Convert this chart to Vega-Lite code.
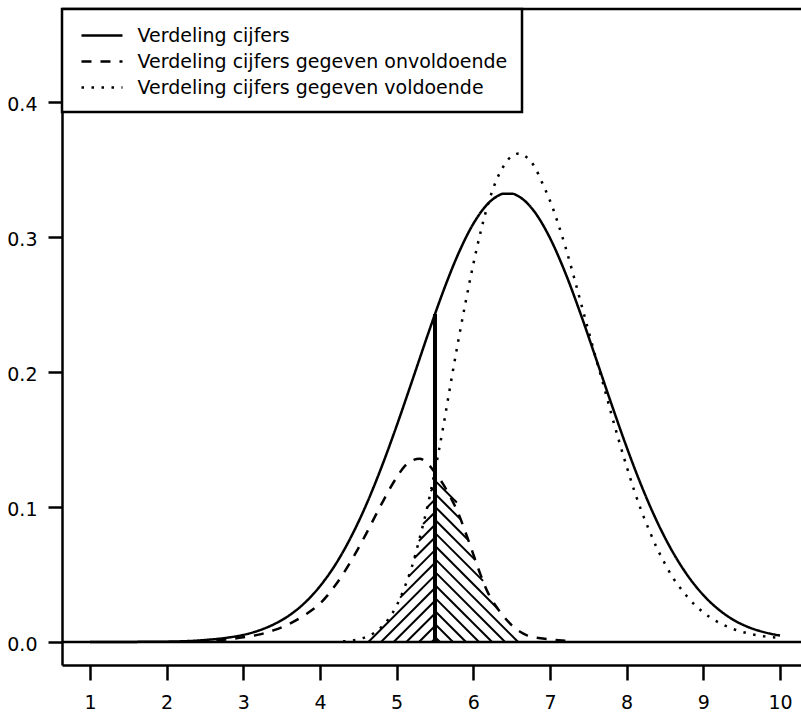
{
  "$schema": "https://vega.github.io/schema/vega-lite/v6.json",
  "width": 739,
  "height": 656,
  "autosize": {"type": "none"},
  "padding": {"left": 62, "top": 9, "right": 0, "bottom": 48},
  "background": "white",
  "config": {
    "view": {"stroke": null},
    "font": "DejaVu Sans",
    "axis": {"grid": false, "domainColor": "black", "domainWidth": 2.5, "tickColor": "black", "tickWidth": 2.5, "labelColor": "black", "labelFont": "DejaVu Sans", "labelFontSize": 19},
    "legend": {"strokeWidth": 2.5}
  },
  "datasets": {
    "curves": [
      {"s": "Verdeling cijfers", "x": 1, "y": 0},
      {"s": "Verdeling cijfers", "x": 1.5, "y": 0.0001},
      {"s": "Verdeling cijfers", "x": 2, "y": 0.0003},
      {"s": "Verdeling cijfers", "x": 2.5, "y": 0.0015},
      {"s": "Verdeling cijfers", "x": 2.8, "y": 0.0033},
      {"s": "Verdeling cijfers", "x": 3, "y": 0.0053},
      {"s": "Verdeling cijfers", "x": 3.2, "y": 0.0085},
      {"s": "Verdeling cijfers", "x": 3.4, "y": 0.0132},
      {"s": "Verdeling cijfers", "x": 3.6, "y": 0.0198},
      {"s": "Verdeling cijfers", "x": 3.8, "y": 0.029},
      {"s": "Verdeling cijfers", "x": 4, "y": 0.0414},
      {"s": "Verdeling cijfers", "x": 4.2, "y": 0.0573},
      {"s": "Verdeling cijfers", "x": 4.4, "y": 0.0773},
      {"s": "Verdeling cijfers", "x": 4.6, "y": 0.1013},
      {"s": "Verdeling cijfers", "x": 4.8, "y": 0.1292},
      {"s": "Verdeling cijfers", "x": 5, "y": 0.1602},
      {"s": "Verdeling cijfers", "x": 5.2, "y": 0.1932},
      {"s": "Verdeling cijfers", "x": 5.4, "y": 0.2267},
      {"s": "Verdeling cijfers", "x": 5.5, "y": 0.243},
      {"s": "Verdeling cijfers", "x": 5.6, "y": 0.2587},
      {"s": "Verdeling cijfers", "x": 5.8, "y": 0.2871},
      {"s": "Verdeling cijfers", "x": 6, "y": 0.3099},
      {"s": "Verdeling cijfers", "x": 6.2, "y": 0.3253},
      {"s": "Verdeling cijfers", "x": 6.3, "y": 0.3299},
      {"s": "Verdeling cijfers", "x": 6.4, "y": 0.3322},
      {"s": "Verdeling cijfers", "x": 6.5, "y": 0.3322},
      {"s": "Verdeling cijfers", "x": 6.6, "y": 0.3299},
      {"s": "Verdeling cijfers", "x": 6.8, "y": 0.3186},
      {"s": "Verdeling cijfers", "x": 7, "y": 0.2993},
      {"s": "Verdeling cijfers", "x": 7.2, "y": 0.2735},
      {"s": "Verdeling cijfers", "x": 7.4, "y": 0.243},
      {"s": "Verdeling cijfers", "x": 7.6, "y": 0.21},
      {"s": "Verdeling cijfers", "x": 7.8, "y": 0.1766},
      {"s": "Verdeling cijfers", "x": 8, "y": 0.1444},
      {"s": "Verdeling cijfers", "x": 8.2, "y": 0.1148},
      {"s": "Verdeling cijfers", "x": 8.4, "y": 0.0888},
      {"s": "Verdeling cijfers", "x": 8.6, "y": 0.0668},
      {"s": "Verdeling cijfers", "x": 8.8, "y": 0.0489},
      {"s": "Verdeling cijfers", "x": 9, "y": 0.0348},
      {"s": "Verdeling cijfers", "x": 9.2, "y": 0.0241},
      {"s": "Verdeling cijfers", "x": 9.4, "y": 0.0162},
      {"s": "Verdeling cijfers", "x": 9.6, "y": 0.0108},
      {"s": "Verdeling cijfers", "x": 9.8, "y": 0.0072},
      {"s": "Verdeling cijfers", "x": 10, "y": 0.0048},

      {"s": "Verdeling cijfers gegeven onvoldoende", "x": 2.4, "y": 0.0006},
      {"s": "Verdeling cijfers gegeven onvoldoende", "x": 2.6, "y": 0.001},
      {"s": "Verdeling cijfers gegeven onvoldoende", "x": 2.8, "y": 0.002},
      {"s": "Verdeling cijfers gegeven onvoldoende", "x": 3, "y": 0.0035},
      {"s": "Verdeling cijfers gegeven onvoldoende", "x": 3.2, "y": 0.0055},
      {"s": "Verdeling cijfers gegeven onvoldoende", "x": 3.4, "y": 0.0088},
      {"s": "Verdeling cijfers gegeven onvoldoende", "x": 3.6, "y": 0.0135},
      {"s": "Verdeling cijfers gegeven onvoldoende", "x": 3.8, "y": 0.02},
      {"s": "Verdeling cijfers gegeven onvoldoende", "x": 4, "y": 0.0285},
      {"s": "Verdeling cijfers gegeven onvoldoende", "x": 4.2, "y": 0.042},
      {"s": "Verdeling cijfers gegeven onvoldoende", "x": 4.4, "y": 0.0595},
      {"s": "Verdeling cijfers gegeven onvoldoende", "x": 4.6, "y": 0.08},
      {"s": "Verdeling cijfers gegeven onvoldoende", "x": 4.8, "y": 0.102},
      {"s": "Verdeling cijfers gegeven onvoldoende", "x": 5, "y": 0.122},
      {"s": "Verdeling cijfers gegeven onvoldoende", "x": 5.1, "y": 0.13},
      {"s": "Verdeling cijfers gegeven onvoldoende", "x": 5.2, "y": 0.1345},
      {"s": "Verdeling cijfers gegeven onvoldoende", "x": 5.3, "y": 0.1358},
      {"s": "Verdeling cijfers gegeven onvoldoende", "x": 5.4, "y": 0.1325},
      {"s": "Verdeling cijfers gegeven onvoldoende", "x": 5.5, "y": 0.1255},
      {"s": "Verdeling cijfers gegeven onvoldoende", "x": 5.6, "y": 0.1175},
      {"s": "Verdeling cijfers gegeven onvoldoende", "x": 5.7, "y": 0.1075},
      {"s": "Verdeling cijfers gegeven onvoldoende", "x": 5.8, "y": 0.096},
      {"s": "Verdeling cijfers gegeven onvoldoende", "x": 5.9, "y": 0.081},
      {"s": "Verdeling cijfers gegeven onvoldoende", "x": 6, "y": 0.065},
      {"s": "Verdeling cijfers gegeven onvoldoende", "x": 6.1, "y": 0.049},
      {"s": "Verdeling cijfers gegeven onvoldoende", "x": 6.2, "y": 0.0355},
      {"s": "Verdeling cijfers gegeven onvoldoende", "x": 6.3, "y": 0.0262},
      {"s": "Verdeling cijfers gegeven onvoldoende", "x": 6.4, "y": 0.0187},
      {"s": "Verdeling cijfers gegeven onvoldoende", "x": 6.5, "y": 0.0125},
      {"s": "Verdeling cijfers gegeven onvoldoende", "x": 6.6, "y": 0.008},
      {"s": "Verdeling cijfers gegeven onvoldoende", "x": 6.7, "y": 0.005},
      {"s": "Verdeling cijfers gegeven onvoldoende", "x": 6.8, "y": 0.0035},
      {"s": "Verdeling cijfers gegeven onvoldoende", "x": 7, "y": 0.002},
      {"s": "Verdeling cijfers gegeven onvoldoende", "x": 7.2, "y": 0.001},

      {"s": "Verdeling cijfers gegeven voldoende", "x": 4.3, "y": 0.0005},
      {"s": "Verdeling cijfers gegeven voldoende", "x": 4.4, "y": 0.001},
      {"s": "Verdeling cijfers gegeven voldoende", "x": 4.5, "y": 0.002},
      {"s": "Verdeling cijfers gegeven voldoende", "x": 4.6, "y": 0.0038},
      {"s": "Verdeling cijfers gegeven voldoende", "x": 4.7, "y": 0.0065},
      {"s": "Verdeling cijfers gegeven voldoende", "x": 4.8, "y": 0.011},
      {"s": "Verdeling cijfers gegeven voldoende", "x": 4.9, "y": 0.0175},
      {"s": "Verdeling cijfers gegeven voldoende", "x": 5, "y": 0.027},
      {"s": "Verdeling cijfers gegeven voldoende", "x": 5.1, "y": 0.04},
      {"s": "Verdeling cijfers gegeven voldoende", "x": 5.2, "y": 0.056},
      {"s": "Verdeling cijfers gegeven voldoende", "x": 5.3, "y": 0.077},
      {"s": "Verdeling cijfers gegeven voldoende", "x": 5.4, "y": 0.1},
      {"s": "Verdeling cijfers gegeven voldoende", "x": 5.5, "y": 0.127},
      {"s": "Verdeling cijfers gegeven voldoende", "x": 5.6, "y": 0.157},
      {"s": "Verdeling cijfers gegeven voldoende", "x": 5.7, "y": 0.19},
      {"s": "Verdeling cijfers gegeven voldoende", "x": 5.8, "y": 0.222},
      {"s": "Verdeling cijfers gegeven voldoende", "x": 5.9, "y": 0.252},
      {"s": "Verdeling cijfers gegeven voldoende", "x": 6, "y": 0.28},
      {"s": "Verdeling cijfers gegeven voldoende", "x": 6.1, "y": 0.305},
      {"s": "Verdeling cijfers gegeven voldoende", "x": 6.2, "y": 0.326},
      {"s": "Verdeling cijfers gegeven voldoende", "x": 6.3, "y": 0.342},
      {"s": "Verdeling cijfers gegeven voldoende", "x": 6.4, "y": 0.353},
      {"s": "Verdeling cijfers gegeven voldoende", "x": 6.5, "y": 0.36},
      {"s": "Verdeling cijfers gegeven voldoende", "x": 6.6, "y": 0.362},
      {"s": "Verdeling cijfers gegeven voldoende", "x": 6.7, "y": 0.359},
      {"s": "Verdeling cijfers gegeven voldoende", "x": 6.8, "y": 0.352},
      {"s": "Verdeling cijfers gegeven voldoende", "x": 6.9, "y": 0.34},
      {"s": "Verdeling cijfers gegeven voldoende", "x": 7, "y": 0.327},
      {"s": "Verdeling cijfers gegeven voldoende", "x": 7.1, "y": 0.311},
      {"s": "Verdeling cijfers gegeven voldoende", "x": 7.2, "y": 0.293},
      {"s": "Verdeling cijfers gegeven voldoende", "x": 7.3, "y": 0.273},
      {"s": "Verdeling cijfers gegeven voldoende", "x": 7.4, "y": 0.252},
      {"s": "Verdeling cijfers gegeven voldoende", "x": 7.5, "y": 0.231},
      {"s": "Verdeling cijfers gegeven voldoende", "x": 7.6, "y": 0.21},
      {"s": "Verdeling cijfers gegeven voldoende", "x": 7.7, "y": 0.19},
      {"s": "Verdeling cijfers gegeven voldoende", "x": 7.8, "y": 0.169},
      {"s": "Verdeling cijfers gegeven voldoende", "x": 7.9, "y": 0.149},
      {"s": "Verdeling cijfers gegeven voldoende", "x": 8, "y": 0.13},
      {"s": "Verdeling cijfers gegeven voldoende", "x": 8.1, "y": 0.112},
      {"s": "Verdeling cijfers gegeven voldoende", "x": 8.2, "y": 0.096},
      {"s": "Verdeling cijfers gegeven voldoende", "x": 8.3, "y": 0.082},
      {"s": "Verdeling cijfers gegeven voldoende", "x": 8.4, "y": 0.069},
      {"s": "Verdeling cijfers gegeven voldoende", "x": 8.5, "y": 0.058},
      {"s": "Verdeling cijfers gegeven voldoende", "x": 8.6, "y": 0.048},
      {"s": "Verdeling cijfers gegeven voldoende", "x": 8.7, "y": 0.04},
      {"s": "Verdeling cijfers gegeven voldoende", "x": 8.8, "y": 0.033},
      {"s": "Verdeling cijfers gegeven voldoende", "x": 8.9, "y": 0.027},
      {"s": "Verdeling cijfers gegeven voldoende", "x": 9, "y": 0.022},
      {"s": "Verdeling cijfers gegeven voldoende", "x": 9.2, "y": 0.0145},
      {"s": "Verdeling cijfers gegeven voldoende", "x": 9.4, "y": 0.0095},
      {"s": "Verdeling cijfers gegeven voldoende", "x": 9.6, "y": 0.0062},
      {"s": "Verdeling cijfers gegeven voldoende", "x": 9.8, "y": 0.0042},
      {"s": "Verdeling cijfers gegeven voldoende", "x": 10, "y": 0.003}
    ],
    "hatch": [
      {"x": 5.456, "y": 0, "x2": 5.5, "y2": 0.0025},
      {"x": 5.291, "y": 0, "x2": 5.5, "y2": 0.0119},
      {"x": 5.126, "y": 0, "x2": 5.5, "y2": 0.0212},
      {"x": 4.961, "y": 0, "x2": 5.5, "y2": 0.0306},
      {"x": 4.796, "y": 0, "x2": 5.5, "y2": 0.04},
      {"x": 4.631, "y": 0, "x2": 5.5, "y2": 0.0494},
      {"x": 5.045, "y": 0.0329, "x2": 5.5, "y2": 0.0587},
      {"x": 5.152, "y": 0.0483, "x2": 5.5, "y2": 0.0681},
      {"x": 5.229, "y": 0.0621, "x2": 5.5, "y2": 0.0775},
      {"x": 5.29, "y": 0.0749, "x2": 5.5, "y2": 0.0869},
      {"x": 5.345, "y": 0.0874, "x2": 5.5, "y2": 0.0962},
      {"x": 5.399, "y": 0.0999, "x2": 5.5, "y2": 0.1056},
      {"x": 5.4435, "y": 0.1118, "x2": 5.5, "y2": 0.115},
      {"x": 5.5, "y": 0.0037, "x2": 5.565, "y2": 0},
      {"x": 5.5, "y": 0.0134, "x2": 5.735, "y2": 0},
      {"x": 5.5, "y": 0.023, "x2": 5.905, "y2": 0},
      {"x": 5.5, "y": 0.0327, "x2": 6.075, "y2": 0},
      {"x": 5.5, "y": 0.0423, "x2": 6.245, "y2": 0},
      {"x": 5.5, "y": 0.052, "x2": 6.415, "y2": 0},
      {"x": 5.5, "y": 0.0616, "x2": 6.585, "y2": 0},
      {"x": 5.5, "y": 0.0713, "x2": 6.32, "y2": 0.0247},
      {"x": 5.5, "y": 0.0809, "x2": 6.127, "y2": 0.0453},
      {"x": 5.5, "y": 0.0906, "x2": 6.027, "y2": 0.0607},
      {"x": 5.5, "y": 0.1003, "x2": 5.934, "y2": 0.0756},
      {"x": 5.5, "y": 0.1099, "x2": 5.834, "y2": 0.0909},
      {"x": 5.5, "y": 0.1196, "x2": 5.785, "y2": 0.1034}
    ],
    "cut": [
      {"x": 5.5, "y": 0, "y2": 0.243}
    ],
    "frame": [
      {"y": 0, "kind": "baseline"},
      {"y": 0.469, "kind": "top"}
    ]
  },
  "layer": [
    {
      "data": {"name": "hatch"},
      "mark": {"type": "rule", "color": "black", "strokeWidth": 2},
      "encoding": {
        "x": {"field": "x", "type": "quantitative", "title": null,
              "scale": {"domain": [0.635, 10.274], "nice": false, "zero": false},
              "axis": {"values": [1, 2, 3, 4, 5, 6, 7, 8, 9, 10], "tickSize": 15, "labelPadding": 13, "labelFlush": false, "labelOverlap": false, "title": null}},
        "y": {"field": "y", "type": "quantitative", "title": null,
              "scale": {"domain": [-0.017, 0.469], "nice": false, "zero": false},
              "axis": {"values": [0, 0.1, 0.2, 0.3, 0.4], "format": ".1f", "tickSize": 14, "labelPadding": 11, "labelOffset": 2, "labelFlush": false, "labelOverlap": false, "title": null}},
        "x2": {"field": "x2"},
        "y2": {"field": "y2"}
      }
    },
    {
      "data": {"name": "curves"},
      "mark": {"type": "line", "color": "black", "strokeWidth": 2.5, "interpolate": "monotone"},
      "encoding": {
        "x": {"field": "x", "type": "quantitative", "title": null,
              "scale": {"domain": [0.635, 10.274], "nice": false, "zero": false},
              "axis": {"values": [1, 2, 3, 4, 5, 6, 7, 8, 9, 10], "tickSize": 15, "labelPadding": 13, "labelFlush": false, "labelOverlap": false, "title": null}},
        "y": {"field": "y", "type": "quantitative", "title": null,
              "scale": {"domain": [-0.017, 0.469], "nice": false, "zero": false},
              "axis": {"values": [0, 0.1, 0.2, 0.3, 0.4], "format": ".1f", "tickSize": 14, "labelPadding": 11, "labelOffset": 2, "labelFlush": false, "labelOverlap": false, "title": null}},
        "strokeDash": {"field": "s", "type": "nominal", "title": null,
              "scale": {"domain": ["Verdeling cijfers", "Verdeling cijfers gegeven onvoldoende", "Verdeling cijfers gegeven voldoende"], "range": [[1, 0], [10, 9], [2.5, 7.5]]},
              "legend": {"orient": "top-left", "offset": 0, "padding": 14, "strokeColor": "black", "fillColor": "white", "symbolType": "M-1.864,0H1.864", "symbolSize": 484, "symbolOffset": 13.5, "symbolStrokeWidth": 2.5, "symbolStrokeColor": "black", "labelFont": "DejaVu Sans", "labelFontSize": 19, "labelColor": "black", "labelOffset": 23, "labelLimit": 600, "rowPadding": 3, "title": null}}
      }
    },
    {
      "data": {"name": "cut"},
      "mark": {"type": "rule", "color": "black", "strokeWidth": 4},
      "encoding": {
        "x": {"field": "x", "type": "quantitative", "title": null,
              "scale": {"domain": [0.635, 10.274], "nice": false, "zero": false},
              "axis": {"values": [1, 2, 3, 4, 5, 6, 7, 8, 9, 10], "tickSize": 15, "labelPadding": 13, "labelFlush": false, "labelOverlap": false, "title": null}},
        "y": {"field": "y", "type": "quantitative", "title": null,
              "scale": {"domain": [-0.017, 0.469], "nice": false, "zero": false},
              "axis": {"values": [0, 0.1, 0.2, 0.3, 0.4], "format": ".1f", "tickSize": 14, "labelPadding": 11, "labelOffset": 2, "labelFlush": false, "labelOverlap": false, "title": null}},
        "y2": {"field": "y2"}
      }
    },
    {
      "data": {"name": "frame"},
      "mark": {"type": "rule", "color": "black", "strokeWidth": 2.5},
      "encoding": {
        "y": {"field": "y", "type": "quantitative", "title": null,
              "scale": {"domain": [-0.017, 0.469], "nice": false, "zero": false},
              "axis": {"values": [0, 0.1, 0.2, 0.3, 0.4], "format": ".1f", "tickSize": 14, "labelPadding": 11, "labelOffset": 2, "labelFlush": false, "labelOverlap": false, "title": null}}
      }
    }
  ]
}
